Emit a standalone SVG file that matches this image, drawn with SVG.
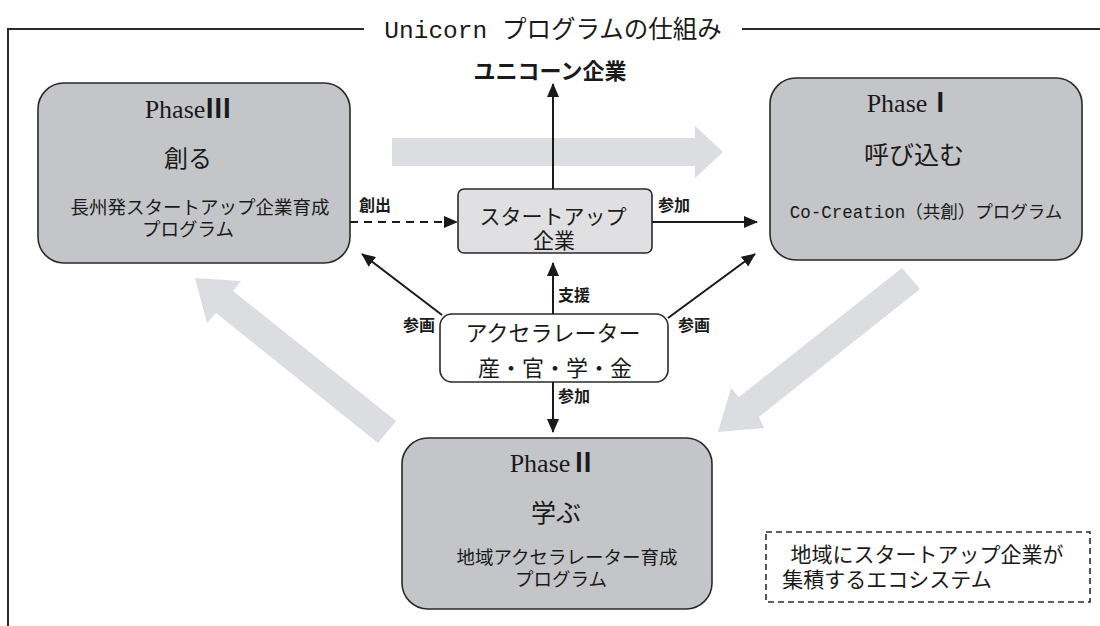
<svg xmlns="http://www.w3.org/2000/svg" width="1100" height="626" viewBox="0 0 1100 626">
<defs>
<marker id="ah" markerUnits="userSpaceOnUse" markerWidth="14" markerHeight="12" refX="13" refY="6" orient="auto">
<path d="M0,0 L14,6 L0,12 Z" fill="#1a1a1a"/>
</marker>
<style>
.phase{fill:#c4c5c8;stroke:#2a2a2a;stroke-width:1.6}
.big{fill:#dcdde0}
.t{font-family:"Liberation Serif","Noto Sans CJK JP",serif;fill:#1a1a1a;text-anchor:middle}
.num{font-family:"Noto Sans CJK JP",sans-serif;font-weight:bold}
.m{font-family:"Liberation Mono","Noto Sans CJK JP",monospace;fill:#1a1a1a;text-anchor:middle}
.j{font-family:"Noto Sans CJK JP",sans-serif;fill:#1a1a1a;text-anchor:middle}
.j2{font-family:"Liberation Serif","Noto Sans CJK JP",sans-serif;fill:#1a1a1a;text-anchor:middle}
.lbl{font-family:"Noto Sans CJK JP",sans-serif;font-size:16px;font-weight:bold;fill:#1a1a1a;text-anchor:middle}
.c{stroke:#1a1a1a;stroke-width:2;fill:none}
</style>
</defs>
<rect width="1100" height="626" fill="#ffffff"/>
<g id="frame">
<path d="M8,626 L8,29 L364,29 M742,29 L1100,29" stroke="#2a2a2a" stroke-width="2" fill="none"/>
<text class="m" x="553" y="38" font-size="24.5">Unicorn プログラムの仕組み</text>
</g>
<g id="cycle-arrows">
<polygon class="big" points="392,138 695,138 695,126 723,152 695,178 695,166 392,166"/>
<polygon class="big" points="902,268 739,397 731,388 718,432 764,428 759,417 920,289"/>
<polygon class="big" points="396,421 233,291 241,281 195,278 207,323 216,313 378,443"/>
</g>
<g id="phase3">
<rect class="phase" x="38" y="83" width="312" height="180" rx="26"/>
<text class="t" x="188" y="118" font-size="26">Phase<tspan class="num">Ⅲ</tspan></text>
<text class="j" x="188" y="167" font-size="24">創る</text>
<text class="j2" x="200" y="214" font-size="18.5">長州発スタートアップ企業育成</text>
<text class="j2" x="188" y="236" font-size="18.5">プログラム</text>
</g>
<g id="phase1">
<rect class="phase" x="770" y="78" width="312" height="182" rx="26"/>
<text class="t" x="910" y="112" font-size="26">Phase<tspan class="num">Ⅰ</tspan></text>
<text class="j" x="914" y="164" font-size="25">呼び込む</text>
<text class="m" x="926" y="218" font-size="17.5">Co-Creation（共創）プログラム</text>
</g>
<g id="phase2">
<rect class="phase" x="402" y="438" width="310" height="171" rx="26"/>
<text class="t" x="553" y="472" font-size="26">Phase<tspan class="num">Ⅱ</tspan></text>
<text class="j" x="556" y="522" font-size="25">学ぶ</text>
<text class="j2" x="567" y="564" font-size="18.5">地域アクセラレーター育成</text>
<text class="j2" x="561" y="586" font-size="18.5">プログラム</text>
</g>
<g id="unicorn">
<text class="j" x="550" y="79" font-size="22" font-weight="bold">ユニコーン企業</text>
</g>
<g id="startup">
<rect x="458" y="189" width="194" height="64" rx="6" fill="#e0e0e2" stroke="#2a2a2a" stroke-width="1.6"/>
<text class="j2" x="553" y="224" font-size="21">スタートアップ</text>
<text class="j2" x="554" y="248" font-size="21">企業</text>
</g>
<g id="accelerator">
<rect x="440" y="314" width="228" height="68" rx="12" fill="#ffffff" stroke="#2a2a2a" stroke-width="1.6"/>
<text class="j2" x="553" y="341" font-size="22">アクセラレーター</text>
<text class="j2" x="555" y="376" font-size="22">産・官・学・金</text>
</g>
<g id="ecosystem">
<rect x="766" y="532" width="324" height="70" fill="none" stroke="#2a2a2a" stroke-width="1.6" stroke-dasharray="6,4"/>
<text class="j2" x="927" y="562" font-size="21">地域にスタートアップ企業が</text>
<text class="j2" x="887" y="587" font-size="21">集積するエコシステム</text>
</g>
<g id="connectors">
<line class="c" x1="553" y1="189" x2="553" y2="84" marker-end="url(#ah)"/>
<line class="c" x1="350" y1="222" x2="457" y2="222" stroke-dasharray="8,6" marker-end="url(#ah)"/>
<line class="c" x1="652" y1="222" x2="757" y2="222" marker-end="url(#ah)"/>
<line class="c" x1="553" y1="314" x2="553" y2="263" marker-end="url(#ah)"/>
<line class="c" x1="442" y1="315" x2="362" y2="254" marker-end="url(#ah)"/>
<line class="c" x1="668" y1="318" x2="755" y2="254" marker-end="url(#ah)"/>
<line class="c" x1="553" y1="382" x2="553" y2="432" marker-end="url(#ah)"/>
<text class="lbl" x="375" y="211">創出</text>
<text class="lbl" x="674" y="211">参加</text>
<text class="lbl" x="574" y="301">支援</text>
<text class="lbl" x="419" y="331">参画</text>
<text class="lbl" x="694" y="331">参画</text>
<text class="lbl" x="574" y="402">参加</text>
</g>
</svg>
